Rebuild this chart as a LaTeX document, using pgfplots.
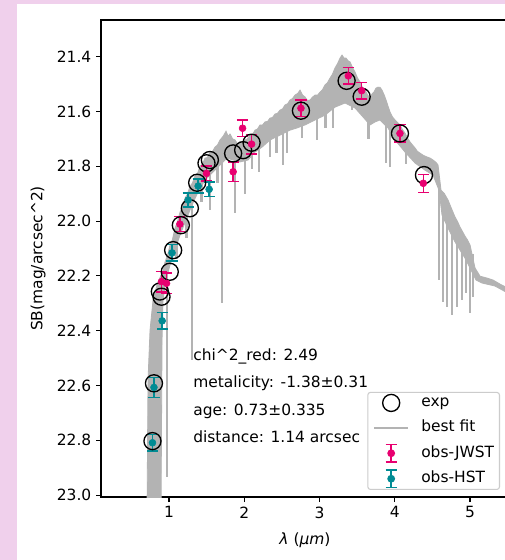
\documentclass[border=0pt]{standalone}
\usepackage{fontspec}
\setmainfont{DejaVu Sans}
\usepackage{pgfplots}
\pgfplotsset{compat=1.18}
\definecolor{bgpink}{RGB}{240,208,236}
\definecolor{jwst}{RGB}{232,0,112}
\definecolor{hst}{RGB}{0,139,147}
\definecolor{spec}{RGB}{179,179,179}
\definecolor{legframe}{RGB}{204,204,204}
\begin{document}
\begin{tikzpicture}[font=\fontsize{11.6}{13.9}\selectfont]
\useasboundingbox (0,0) rectangle (378.75pt,420pt);
\clip (0,0) rectangle (378.75pt,420pt);
\fill[bgpink] (0,0) rectangle (378.75pt,420pt);
\fill[white] (12.75pt,0) rectangle (378.75pt,417pt);
\begin{axis}[
  at={(75.75pt,47.25pt)}, anchor=south west,
  scale only axis, width=306pt, height=357.75pt,
  xmin=0.096, xmax=5.518, ymin=21.266, ymax=23.007,
  y dir=reverse,
  axis line style={line width=0.8pt},
  tick align=outside, xtick pos=bottom, ytick pos=left,
  major tick length=3.75pt, tick style={line width=0.8pt, black},
  xtick={1,2,3,4,5},
  ytick={21.4,21.6,21.8,22.0,22.2,22.4,22.6,22.8,23.0},
  yticklabel style={/pgf/number format/.cd, fixed, fixed zerofill, precision=1},
  /pgf/number format/assume math mode=true,
  xlabel={\textit{λ} (\textit{μm})},
  ylabel={SB(mag/arcsec\textasciicircum 2)},
  xlabel style={at={(axis description cs:0.5,-0.0901)}, anchor=center},
  ylabel style={at={(axis description cs:-0.1544,0.5)}, anchor=center},
  legend style={at={(0.978,0.0147)}, anchor=south east, draw=legframe, line width=0.8pt,
    rounded corners=2pt, fill=white, inner xsep=4pt, inner ysep=1pt, row sep=5pt, column sep=9pt,
    nodes={inner sep=0pt, text height=8.5pt, text depth=2.5pt}},
  legend cell align=left,
]
% best-fit spectrum: band (upper envelope then lower envelope)
\addplot[fill=spec, draw=spec, line width=0.6pt, forget plot] coordinates {
(0.7076,23.06) (0.7209,22.580) (0.7475,22.398) (0.7874,22.288) (0.8405,22.233)
(0.8937,22.197) (0.9200,22.185) (0.9468,22.149) (0.9800,22.125) (1.0133,22.087)
(1.0450,22.068) (1.0797,22.025) (1.1100,22.005) (1.1462,21.967) (1.1800,21.950)
(1.2126,21.916) (1.2450,21.902) (1.2791,21.872) (1.3100,21.862) (1.3455,21.835)
(1.3800,21.825) (1.4120,21.799) (1.4450,21.792) (1.4784,21.770) (1.5100,21.768)
(1.5449,21.748) (1.5800,21.745) (1.6113,21.730) (1.6450,21.722) (1.6777,21.704)
(1.7200,21.690) (1.7575,21.672) (1.7850,21.690) (1.8106,21.682) (1.8450,21.700)
(1.8771,21.704) (1.9100,21.718) (1.9435,21.711) (1.9750,21.716) (2.0100,21.704)
(2.0400,21.700) (2.0764,21.686) (2.1100,21.684) (2.1429,21.668) (2.1750,21.664)
(2.2093,21.649) (2.2400,21.650) (2.2757,21.638) (2.3100,21.636) (2.3422,21.624)
(2.3750,21.622) (2.4086,21.609) (2.4400,21.607) (2.4751,21.595) (2.5100,21.590)
(2.5415,21.576) (2.5750,21.572) (2.6080,21.558) (2.6400,21.553) (2.6744,21.540)
(2.7100,21.534) (2.7409,21.522) (2.7750,21.540) (2.8073,21.547) (2.8400,21.560)
(2.8738,21.558) (2.9050,21.548) (2.9402,21.540) (2.9750,21.540) (3.0066,21.529)
(3.0400,21.520) (3.0731,21.503) (3.1050,21.495) (3.1395,21.478) (3.1700,21.465)
(3.2060,21.441) (3.2400,21.425) (3.2724,21.405) (3.2990,21.394) (3.3250,21.405)
(3.3522,21.405) (3.3800,21.415) (3.4053,21.419) (3.4400,21.440) (3.4718,21.456)
(3.5050,21.478) (3.5382,21.492) (3.5700,21.512) (3.6047,21.522) (3.6400,21.540)
(3.6711,21.551) (3.7000,21.535) (3.7243,21.529) (3.7500,21.515) (3.7774,21.511)
(3.8050,21.512) (3.8306,21.522) (3.8600,21.540) (3.8837,21.558) (3.9100,21.580)
(3.9369,21.602) (3.9700,21.620) (4.0033,21.631) (4.0350,21.640) (4.0698,21.649)
(4.1000,21.665) (4.1362,21.679) (4.1700,21.697) (4.2027,21.711) (4.2350,21.722)
(4.2691,21.733) (4.3000,21.745) (4.3355,21.752) (4.3800,21.760) (4.4286,21.766)
(4.4700,21.770) (4.5083,21.777) (4.5450,21.785) (4.5748,21.795) (4.6146,21.887)
(4.6600,21.900) (4.7076,21.923) (4.7550,21.955) (4.8007,21.985) (4.8350,22.002)
(4.8671,22.022) (4.9000,22.038) (4.9336,22.055) (4.9650,22.068) (5.0000,22.087)
(5.0664,22.171) (5.1329,22.201) (5.2259,22.208) (5.3056,22.215) (5.3987,22.230)
(5.4784,22.241) (5.558,22.25)
(5.558,22.27) (5.4784,22.259) (5.3322,22.237) (5.1595,22.226) (5.0797,22.215)
(5.0000,22.171) (4.9336,22.135) (4.8671,22.106) (4.8007,22.076) (4.7076,22.025)
(4.6279,21.978) (4.5880,21.887) (4.5083,21.832) (4.4020,21.814) (4.2691,21.788)
(4.1362,21.748) (4.0033,21.704) (3.9103,21.660) (3.8040,21.631) (3.7375,21.638)
(3.6711,21.649) (3.5781,21.620) (3.4718,21.587) (3.3389,21.569) (3.2060,21.584)
(3.0731,21.613) (2.9402,21.631) (2.8073,21.649) (2.7010,21.660) (2.6080,21.668)
(2.4751,21.686) (2.3422,21.704) (2.2359,21.730) (2.1429,21.748) (2.0498,21.777)
(1.9435,21.784) (1.8505,21.777) (1.7708,21.770) (1.6777,21.795) (1.5847,21.821)
(1.4784,21.850) (1.3854,21.894) (1.3056,21.941) (1.2259,21.996) (1.1462,22.051)
(1.0797,22.106) (1.0133,22.160) (0.9601,22.215) (0.9203,22.288) (0.9070,22.434)
(0.8937,23.06)
};
% absorption spikes of the spectrum
\addplot[spec, line width=2pt, unbounded coords=jump, forget plot] coordinates {
(0.9734,22.16) (0.9734,22.934) (0.9734,nan)
(1.1000,22.03) (1.1000,22.14) (1.1000,nan)
(1.2300,21.95) (1.2300,22.06) (1.2300,nan)
(1.3056,21.90) (1.3056,22.507) (1.3056,nan)
(1.4300,21.82) (1.4300,21.93) (1.4300,nan)
(1.5449,21.78) (1.5449,21.96) (1.5449,nan)
(1.6400,21.76) (1.6400,21.86) (1.6400,nan)
(1.7043,21.75) (1.7043,22.299) (1.7043,nan)
(1.8771,21.74) (1.8771,21.971) (1.8771,nan)
(2.0100,21.75) (2.0100,21.90) (2.0100,nan)
(2.1030,21.73) (2.1030,21.81) (2.1030,nan)
(2.1960,21.70) (2.1960,21.821) (2.1960,nan)
(2.3420,21.68) (2.3420,21.766) (2.3420,nan)
(2.4300,21.67) (2.4300,21.75) (2.4300,nan)
(2.5150,21.65) (2.5150,21.795) (2.5150,nan)
(2.5680,21.65) (2.5680,21.752) (2.5680,nan)
(2.7670,21.62) (2.7670,21.697) (2.7670,nan)
(2.9670,21.60) (2.9670,21.704) (2.9670,nan)
(3.0800,21.58) (3.0800,21.66) (3.0800,nan)
(3.1790,21.56) (3.1790,21.660) (3.1790,nan)
(3.4320,21.55) (3.4320,21.595) (3.4320,nan)
(3.6500,21.60) (3.6500,21.70) (3.6500,nan)
(3.8840,21.60) (3.8840,21.788) (3.8840,nan)
(3.9370,21.62) (3.9370,21.803) (3.9370,nan)
(4.1500,21.72) (4.1500,21.79) (4.1500,nan)
(4.5880,21.85) (4.5880,22.215) (4.5880,nan)
(4.6410,21.95) (4.6410,22.295) (4.6410,nan)
(4.6940,21.95) (4.6940,22.314) (4.6940,nan)
(4.7610,21.98) (4.7610,22.343) (4.7610,nan)
(4.8270,22.02) (4.8270,22.314) (4.8270,nan)
(4.8940,22.05) (4.8940,22.288) (4.8940,nan)
(4.9470,22.08) (4.9470,22.263) (4.9470,nan)
(5.0000,22.10) (5.0000,22.336) (5.0000,nan)
(5.0400,22.12) (5.0400,22.277)
};
% exp
\addplot[only marks, mark=o, mark size=6.4pt, mark options={line width=1pt, draw=black}, forget plot] coordinates {
(0.78,22.803) (0.80,22.592) (0.878,22.257) (0.90,22.276) (1.01,22.185) (1.055,22.106)
(1.157,22.015) (1.277,21.953) (1.374,21.86) (1.498,21.789) (1.543,21.777) (1.852,21.753)
(1.985,21.741) (2.097,21.714) (2.753,21.597) (3.36,21.488) (3.56,21.546) (4.069,21.68)
(4.388,21.832)
};
% obs-JWST
\addplot[only marks, color=jwst, mark=*, mark size=2.6pt, mark options={fill=jwst, draw=jwst}, forget plot,
  error bars/.cd, y dir=both, y explicit, error bar style={line width=1.1pt, jwst},
  error mark=-, error mark options={rotate=90, line width=1.1pt, jwst, mark size=4.2pt}] coordinates {
(0.90,22.221) +- (0,0.037)
(0.967,22.227) +- (0,0.037)
(1.144,22.011) +- (0,0.027)
(1.498,21.826) +- (0,0.027)
(1.852,21.82) +- (0,0.036)
(1.977,21.661) +- (0,0.030)
(2.097,21.719) +- (0,0.036)
(2.753,21.588) +- (0,0.030)
(3.382,21.470) +- (0,0.030)
(3.56,21.524) +- (0,0.030)
(4.069,21.68) +- (0,0.032)
(4.379,21.862) +- (0,0.033)
};
% obs-HST
\addplot[only marks, color=hst, mark=*, mark size=2.6pt, mark options={fill=hst, draw=hst}, forget plot,
  error bars/.cd, y dir=both, y explicit, error bar style={line width=1.1pt, hst},
  error mark=-, error mark options={rotate=90, line width=1.1pt, hst, mark size=4.2pt}] coordinates {
(0.78,22.809) +- (0,0.030)
(0.80,22.607) +- (0,0.036)
(0.909,22.364) +- (0,0.030)
(1.04,22.116) +- (0,0.030)
(1.254,21.923) +- (0,0.026)
(1.387,21.872) +- (0,0.025)
(1.533,21.884) +- (0,0.026)
};
\node[anchor=base west, inner sep=0pt] at (axis cs:1.319,22.507) {chi\textasciicircum 2\_red: 2.49};
\node[anchor=base west, inner sep=0pt] at (axis cs:1.319,22.608) {metalicity: -1.38±0.31};
\node[anchor=base west, inner sep=0pt] at (axis cs:1.319,22.708) {age: 0.73±0.335};
\node[anchor=base west, inner sep=0pt] at (axis cs:1.319,22.807) {distance: 1.14 arcsec};
\addlegendimage{legend image code/.code={\path (0pt,-6.5pt) (25.5pt,6.5pt); \draw[black, line width=1pt, rounded corners=0pt] (12.75pt,0pt) circle (6.4pt);}}
\addlegendentry{exp}
\addlegendimage{legend image code/.code={\path (0pt,-6.5pt) (25.5pt,6.5pt); \draw[spec, line width=1.6pt, rounded corners=0pt] (0pt,0pt) -- (25.5pt,0pt);}}
\addlegendentry{best fit}
\addlegendimage{legend image code/.code={\path (0pt,-6.5pt) (25.5pt,6.5pt); \draw[jwst, line width=1.1pt, rounded corners=0pt] (12.75pt,-6.5pt) -- (12.75pt,6.5pt) (8.5pt,-6.5pt) -- (17pt,-6.5pt) (8.5pt,6.5pt) -- (17pt,6.5pt); \fill[jwst] (12.75pt,0pt) circle (2.5pt);}}
\addlegendentry{obs-JWST}
\addlegendimage{legend image code/.code={\path (0pt,-6.5pt) (25.5pt,6.5pt); \draw[hst, line width=1.1pt, rounded corners=0pt] (12.75pt,-6.5pt) -- (12.75pt,6.5pt) (8.5pt,-6.5pt) -- (17pt,-6.5pt) (8.5pt,6.5pt) -- (17pt,6.5pt); \fill[hst] (12.75pt,0pt) circle (2.5pt);}}
\addlegendentry{obs-HST}
\end{axis}
\end{tikzpicture}
\end{document}
